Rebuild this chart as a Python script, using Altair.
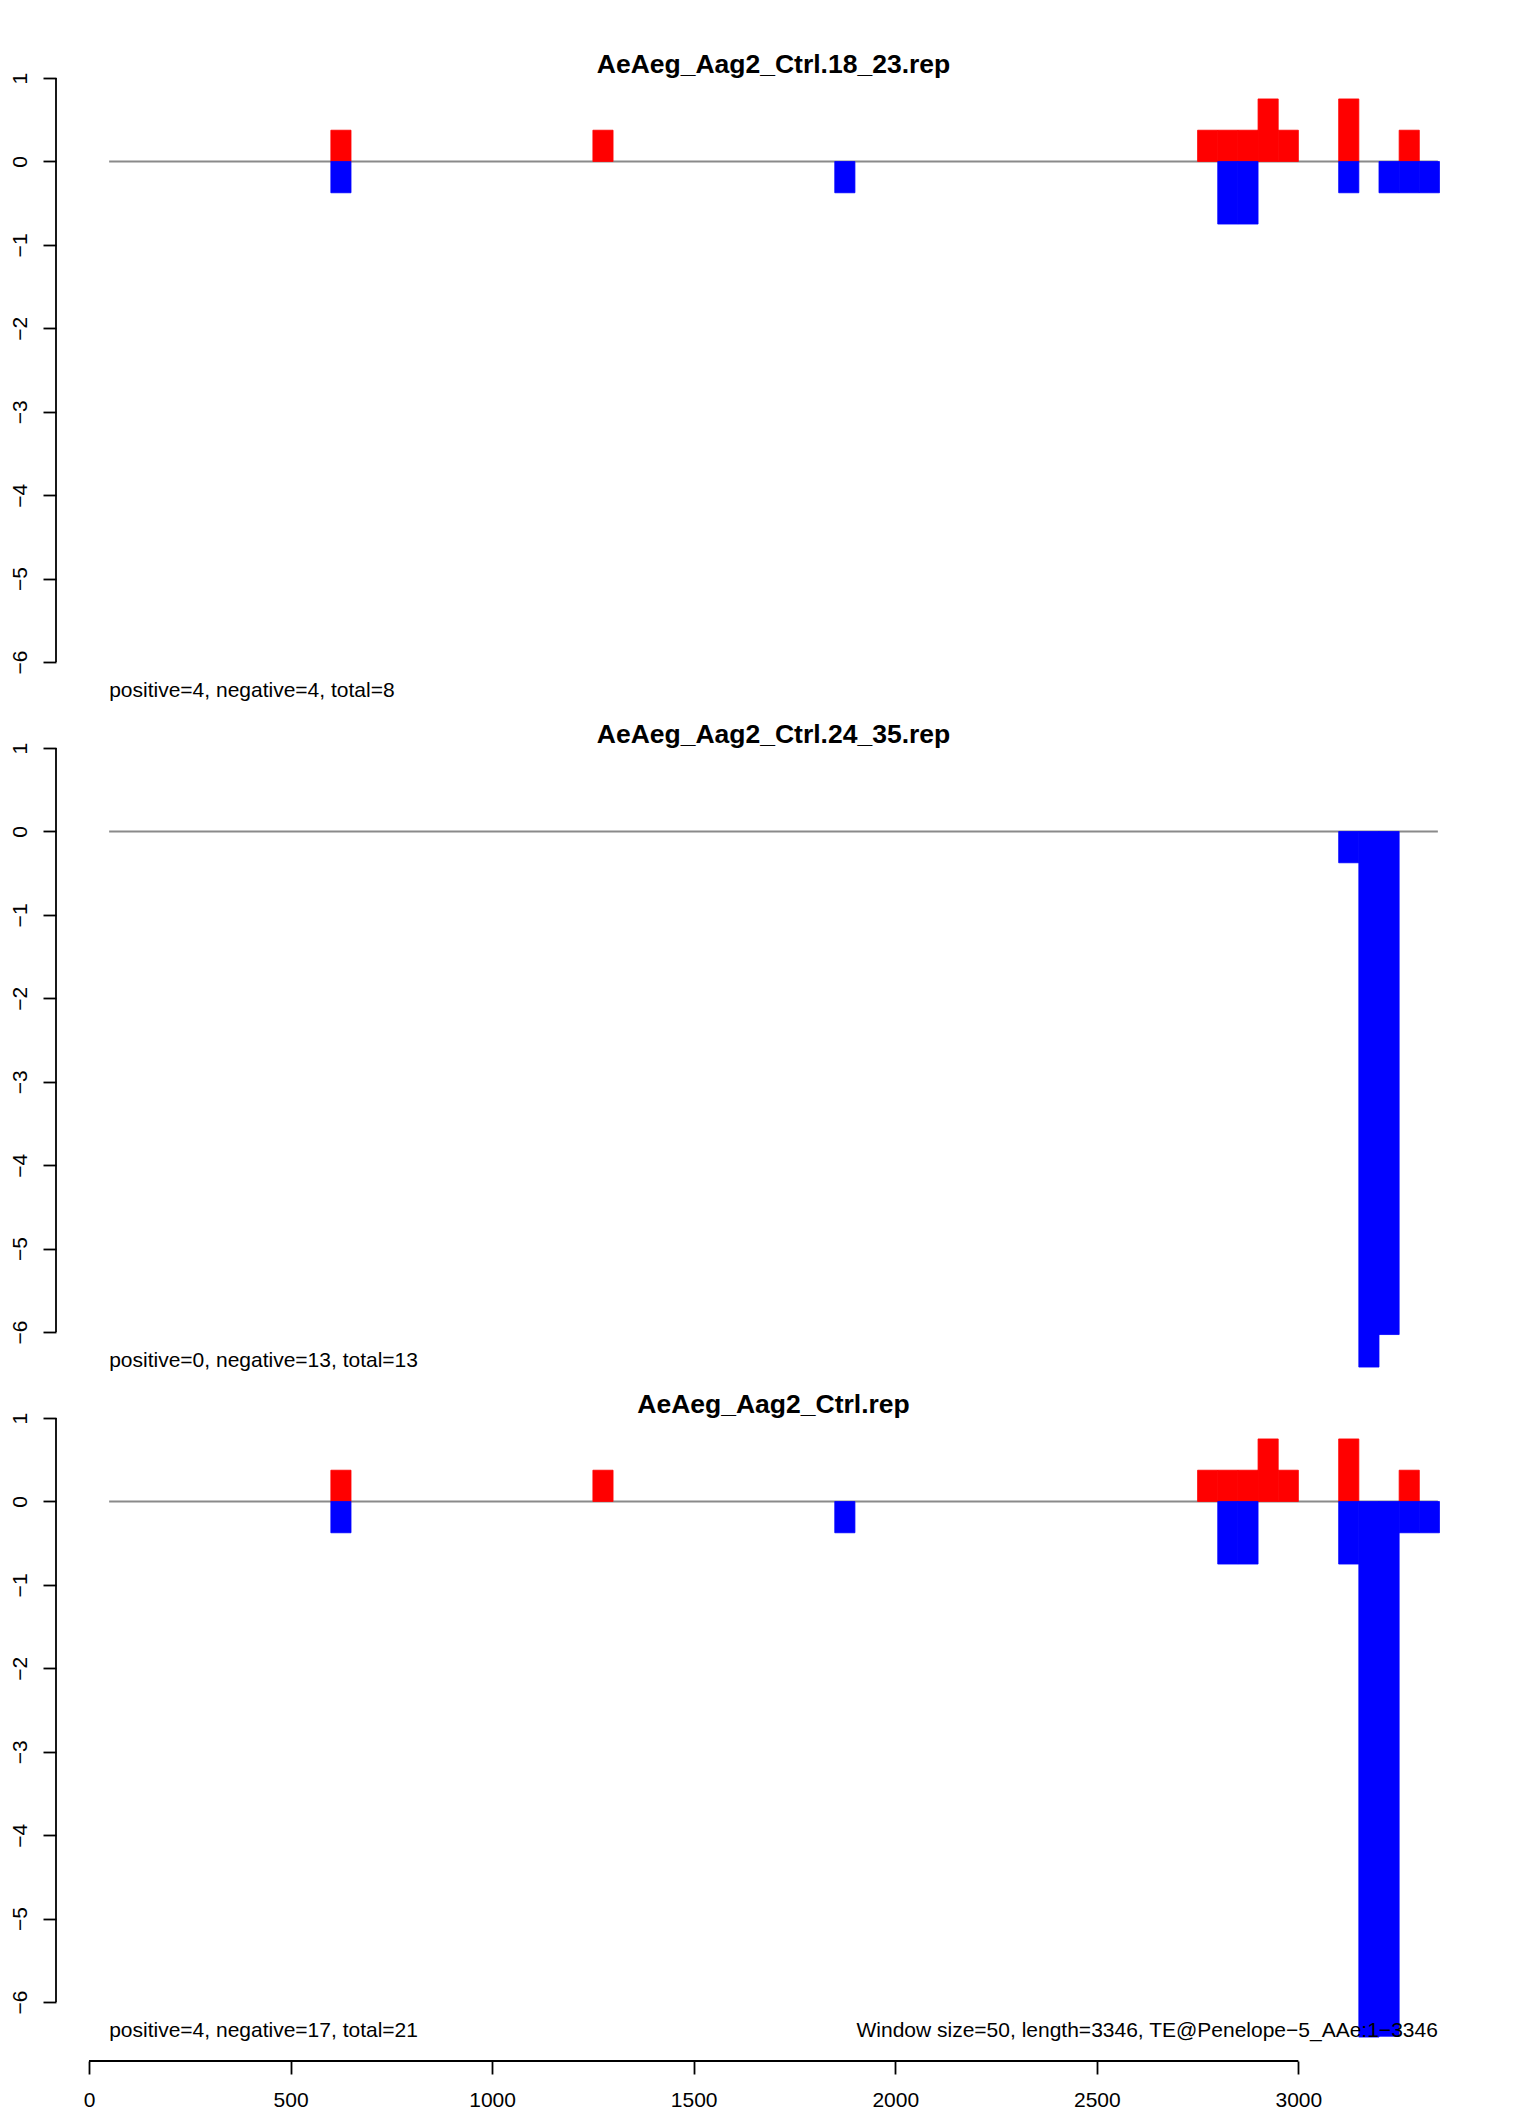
import altair as alt
import pandas as pd

FONT = "Liberation Sans"
WIN = 50
SEQ_START = 50
SEQ_END = 3346

titles = ["AeAeg_Aag2_Ctrl.18_23.rep", "AeAeg_Aag2_Ctrl.24_35.rep", "AeAeg_Aag2_Ctrl.rep"]
notes = ["positive=4, negative=4, total=8",
         "positive=0, negative=13, total=13",
         "positive=4, negative=17, total=21"]
footer = "Window size=50, length=3346, TE@Penelope\u22125_AAe:1\u22123346"

# panel 1: AeAeg_Aag2_Ctrl.18_23.rep
p1_pos_start = [600, 1250, 2750, 2800, 2850, 2900, 2950, 3100, 3250]
p1_pos_val = [0.375, 0.375, 0.375, 0.375, 0.375, 0.75, 0.375, 0.75, 0.375]
p1_neg_start = [600, 1850, 2800, 2850, 3100, 3200, 3250, 3300]
p1_neg_val = [-0.375, -0.375, -0.75, -0.75, -0.375, -0.375, -0.375, -0.375]

# panel 2: AeAeg_Aag2_Ctrl.24_35.rep
p2_pos_start = []
p2_pos_val = []
p2_neg_start = [3100, 3150, 3200]
p2_neg_val = [-0.375, -6.42, -6.03]

# panel 3: AeAeg_Aag2_Ctrl.rep
p3_pos_start = [600, 1250, 2750, 2800, 2850, 2900, 2950, 3100, 3250]
p3_pos_val = [0.375, 0.375, 0.375, 0.375, 0.375, 0.75, 0.375, 0.75, 0.375]
p3_neg_start = [600, 1850, 2800, 2850, 3100, 3150, 3200, 3250, 3300]
p3_neg_val = [-0.375, -0.375, -0.75, -0.75, -0.75, -6.42, -6.41, -0.375, -0.375]

y_ticks = [-6, -5, -4, -3, -2, -1, 0, 1]
x_ticks = [0, 500, 1000, 1500, 2000, 2500, 3000]

# R-style 4% axis expansion
DATA_YMIN = min(p1_neg_val + p2_neg_val + p3_neg_val)
DATA_YMAX = max(p1_pos_val + p3_pos_val)
yr = DATA_YMAX - DATA_YMIN
YDOM = [DATA_YMIN - 0.04 * yr, DATA_YMAX + 0.04 * yr]
xr = SEQ_END - SEQ_START
XDOM = [SEQ_START - 0.04 * xr, SEQ_END + 0.04 * xr]

W, H = 1435, 646
LW = 1.8

xs = alt.Scale(domain=XDOM, nice=False, zero=False)
ys = alt.Scale(domain=YDOM, nice=False, zero=False)
strand_scale = alt.Scale(domain=["+", "-"], range=["#FF0000", "#0000FF"])

yaxis = alt.Axis(values=y_ticks, domain=False, grid=False, tickSize=13, tickWidth=LW,
                 tickColor="black", labelFontSize=21, labelFont=FONT, labelColor="black",
                 labelAngle=270, labelAlign="center", labelBaseline="alphabetic",
                 labelPadding=17, labelOverlap=False, labelFlush=False, format="d", title=None)


def make_xaxis():
    return alt.Axis(values=x_ticks, domain=False, grid=False, tickSize=13, tickWidth=LW,
                    tickColor="black", labelFontSize=21, labelFont=FONT, labelColor="black",
                    labelBaseline="top", labelPadding=15, labelOverlap=False, labelFlush=False,
                    format="d", title=None, orient="bottom")


def panel(idx, pos_s, pos_v, neg_s, neg_v, bottom=False):
    xaxis = make_xaxis() if bottom else None

    def X(f):
        return alt.X(f, type="quantitative", scale=xs, axis=xaxis, title=None)

    def Y(f):
        return alt.Y(f, type="quantitative", scale=ys, axis=yaxis, title=None)

    bars = pd.DataFrame({
        "start": pos_s + neg_s,
        "value": pos_v + neg_v,
        "strand": ["+"] * len(pos_s) + ["-"] * len(neg_s),
    })
    bars["end"] = bars["start"] + WIN
    bars["zero"] = 0.0

    zero_df = pd.DataFrame({"x": [SEQ_START], "x2": [SEQ_END], "y": [0.0]})
    zero_line = alt.Chart(zero_df).mark_rule(color="#8a8a8a", strokeWidth=LW).encode(
        x=X("x"), x2="x2", y=Y("y"))

    rects = alt.Chart(bars).mark_rect(strokeWidth=0.8).encode(
        x=X("start"), x2="end", y=Y("value"), y2="zero",
        color=alt.Color("strand:N", scale=strand_scale, legend=None),
        stroke=alt.Stroke("strand:N", scale=strand_scale, legend=None))

    yline_df = pd.DataFrame({"x": [XDOM[0]], "y": [y_ticks[0]], "y2": [y_ticks[-1]]})
    yline = alt.Chart(yline_df).mark_rule(color="black", strokeWidth=LW).encode(
        x=X("x"), y=Y("y"), y2="y2")

    note_df = pd.DataFrame({"x": [SEQ_START], "y": [DATA_YMIN], "t": [notes[idx]]})
    note = alt.Chart(note_df).mark_text(align="left", baseline="alphabetic", fontSize=21,
                                        font=FONT, color="black").encode(
        x=X("x"), y=Y("y"), text="t")

    layers = [zero_line, rects, yline, note]

    if bottom:
        foot_df = pd.DataFrame({"x": [SEQ_END], "y": [DATA_YMIN], "t": [footer]})
        foot = alt.Chart(foot_df).mark_text(align="right", baseline="alphabetic", fontSize=21,
                                            font=FONT, color="black").encode(
            x=X("x"), y=Y("y"), text="t")
        xline_df = pd.DataFrame({"x": [x_ticks[0]], "x2": [x_ticks[-1]], "y": [YDOM[0]]})
        xline = alt.Chart(xline_df).mark_rule(color="black", strokeWidth=LW).encode(
            x=X("x"), x2="x2", y=Y("y"))
        layers += [foot, xline]

    return alt.layer(*layers).properties(
        width=W, height=H,
        title=alt.TitleParams(titles[idx], fontSize=26.5, font=FONT, fontWeight="bold",
                              anchor="middle", frame="group", offset=-27,
                              baseline="alphabetic", color="black"))


c1 = panel(0, p1_pos_start, p1_pos_val, p1_neg_start, p1_neg_val)
c2 = panel(1, p2_pos_start, p2_pos_val, p2_neg_start, p2_neg_val)
c3 = panel(2, p3_pos_start, p3_pos_val, p3_neg_start, p3_neg_val, bottom=True)

chart = alt.vconcat(c1, c2, c3, spacing=24, bounds="flush").properties(
    padding={"left": 0, "top": 43, "right": 5, "bottom": 0},
    background="white",
).configure_view(stroke=None)

chart.save("out.html", embed_options={"renderer": "svg", "actions": False})
